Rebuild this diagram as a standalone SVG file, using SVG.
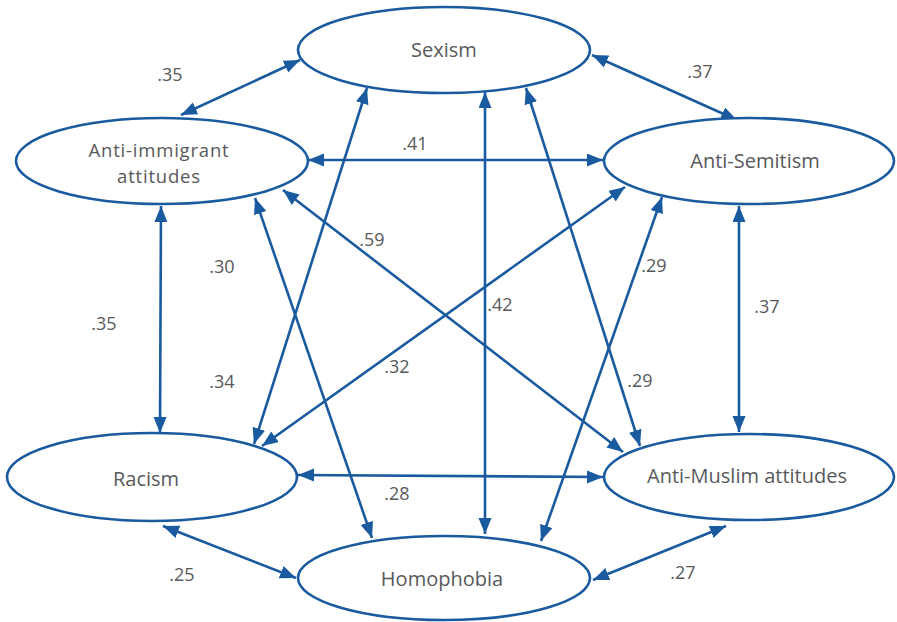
<svg xmlns="http://www.w3.org/2000/svg" width="897" height="622" viewBox="0 0 897 622">
<style>
.node ellipse{fill:#fff;stroke:#1a5a9e;stroke-width:2.6}
.node text{font-family:"Open Sans","Liberation Sans",sans-serif;font-size:20px;fill:#58595b;text-anchor:middle}
.node text.two{font-size:18.5px;letter-spacing:0.8px}
.edges line{stroke:#1a5a9e;stroke-width:2.6;marker-start:url(#ah);marker-end:url(#ah)}
.lbl text{font-family:"Open Sans","Liberation Sans",sans-serif;font-size:18px;fill:#58595b;text-anchor:middle}
</style>
<defs>
<marker id="ah" markerUnits="userSpaceOnUse" markerWidth="18" markerHeight="14" refX="16" refY="6.5" orient="auto-start-reverse" viewBox="0 0 18 14">
<path d="M0,0 L16,6.5 L0,13 z" fill="#1a5a9e"/>
</marker>
</defs>
<rect width="897" height="622" fill="#fff"/>
<g class="edges">
<line x1="181" y1="115" x2="300" y2="60"/>
<line x1="592" y1="55" x2="737" y2="120"/>
<line x1="308" y1="160" x2="603" y2="160"/>
<line x1="161" y1="206" x2="160" y2="433"/>
<line x1="739" y1="206" x2="739" y2="432"/>
<line x1="298" y1="475" x2="603" y2="477"/>
<line x1="163" y1="526" x2="296" y2="578"/>
<line x1="593" y1="580" x2="726" y2="526"/>
<line x1="485" y1="92" x2="485" y2="534"/>
<line x1="367" y1="88" x2="254" y2="444"/>
<line x1="625" y1="187" x2="262" y2="446"/>
<line x1="526" y1="88" x2="640" y2="446"/>
<line x1="283" y1="190" x2="623" y2="452"/>
<line x1="255" y1="198" x2="372" y2="538"/>
<line x1="662" y1="197" x2="541" y2="541"/>
</g>
<g id="sexism" class="node"><ellipse cx="444" cy="50" rx="146" ry="43"/><text x="444" y="57">Sexism</text></g>
<g id="anti-immigrant" class="node"><ellipse cx="162" cy="161" rx="146" ry="43"/><text class="two" x="159" y="157.2">Anti-immigrant</text><text class="two" x="159" y="182.8">attitudes</text></g>
<g id="anti-semitism" class="node"><ellipse cx="749" cy="161" rx="145" ry="43"/><text x="755" y="168">Anti-Semitism</text></g>
<g id="racism" class="node"><ellipse cx="152" cy="477" rx="145" ry="44"/><text x="146" y="486">Racism</text></g>
<g id="anti-muslim" class="node"><ellipse cx="749" cy="477" rx="145" ry="43"/><text x="747" y="483">Anti-Muslim attitudes</text></g>
<g id="homophobia" class="node"><ellipse cx="444" cy="578" rx="146" ry="42"/><text x="442" y="586">Homophobia</text></g>
<g class="lbl">
<text x="170" y="81">.35</text>
<text x="700" y="78">.37</text>
<text x="415" y="150">.41</text>
<text x="372" y="246">.59</text>
<text x="222" y="273">.30</text>
<text x="104" y="330">.35</text>
<text x="500" y="311">.42</text>
<text x="654" y="272">.29</text>
<text x="767" y="313">.37</text>
<text x="222" y="388">.34</text>
<text x="397" y="373">.32</text>
<text x="640" y="387">.29</text>
<text x="397" y="500">.28</text>
<text x="182" y="581">.25</text>
<text x="683" y="579">.27</text>
</g>
</svg>
